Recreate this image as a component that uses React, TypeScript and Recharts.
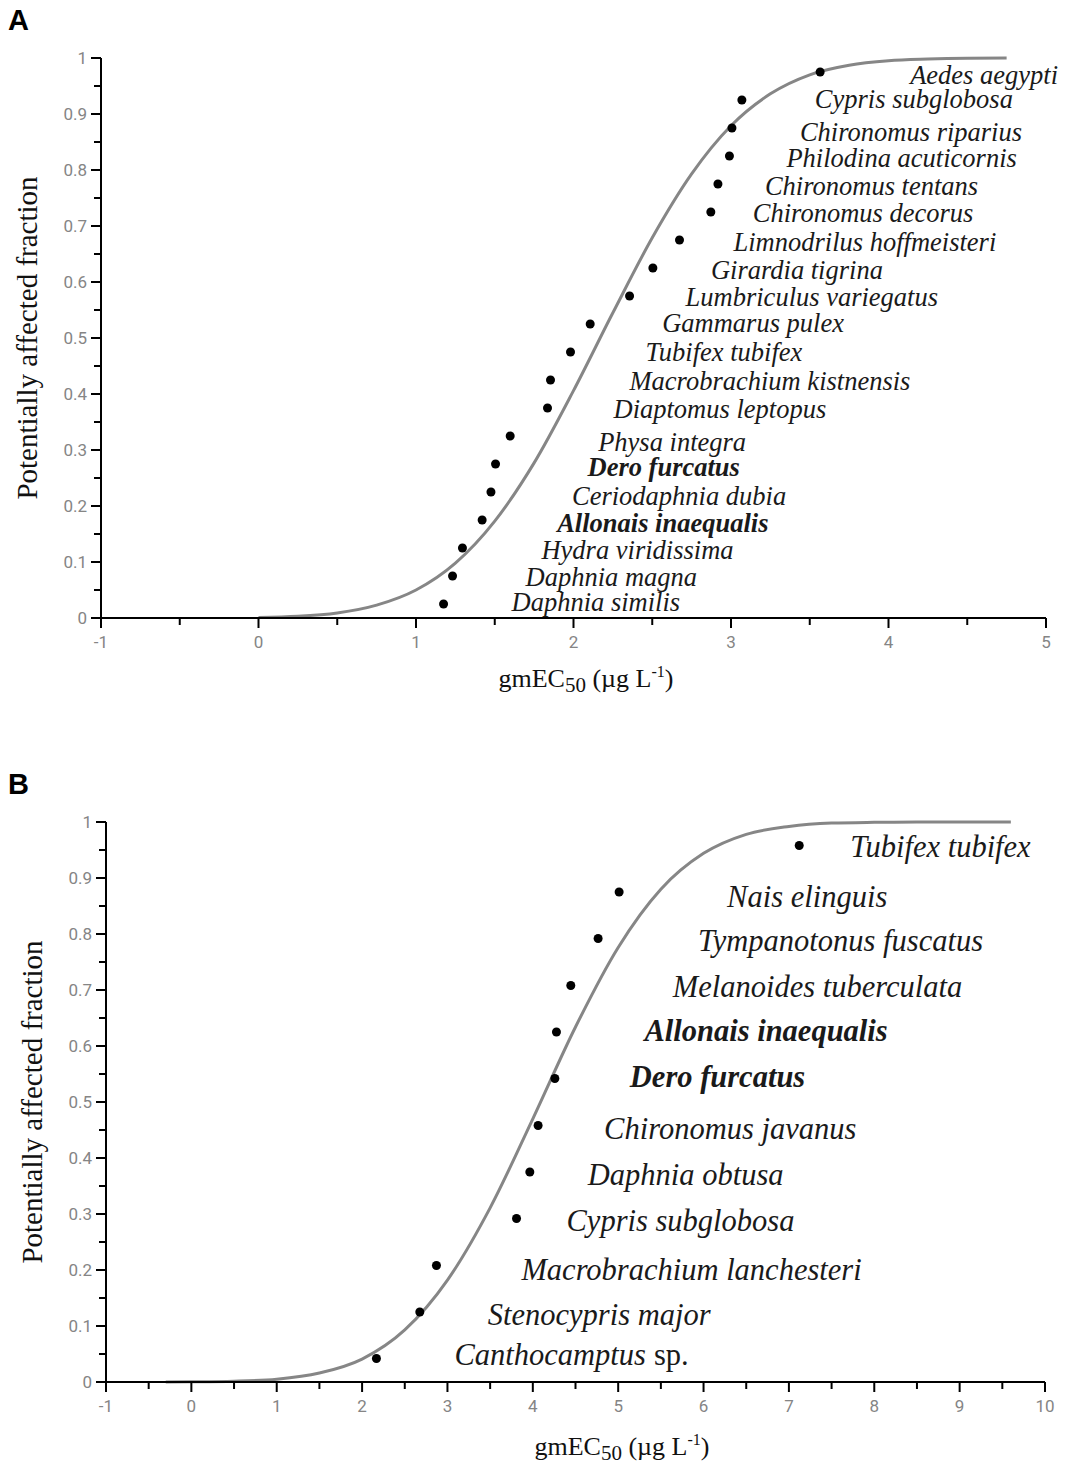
import React from 'react';
import { ComposedChart, Line, Scatter, XAxis, YAxis } from 'recharts';

// Panel A: 20 species, gmEC50 vs potentially affected fraction
const SPECIES_A = [
  'Daphnia similis', 'Daphnia magna', 'Hydra viridissima', 'Allonais inaequalis',
  'Ceriodaphnia dubia', 'Dero furcatus', 'Physa integra', 'Diaptomus leptopus',
  'Macrobrachium kistnensis', 'Tubifex tubifex', 'Gammarus pulex', 'Lumbriculus variegatus',
  'Girardia tigrina', 'Limnodrilus hoffmeisteri', 'Chironomus decorus', 'Chironomus tentans',
  'Philodina acuticornis', 'Chironomus riparius', 'Cypris subglobosa', 'Aedes aegypti',
];
const EC50_A = [
  1.175, 1.232, 1.295, 1.42, 1.476, 1.505, 1.598, 1.835, 1.854, 1.981,
  2.106, 2.356, 2.504, 2.673, 2.872, 2.917, 2.99, 3.006, 3.069, 3.566,
];
const PAF_A = [
  0.025, 0.075, 0.125, 0.175, 0.225, 0.275, 0.325, 0.375, 0.425, 0.475,
  0.525, 0.575, 0.625, 0.675, 0.725, 0.775, 0.825, 0.875, 0.925, 0.975,
];
const CURVE_X_A = [0, 0.25, 0.5, 0.75, 1, 1.25, 1.5, 1.75, 2, 2.25, 2.5, 2.75, 3, 3.25, 3.5, 3.75, 4, 4.25, 4.5, 4.75];
const CURVE_Y_A = [
  0.001, 0.003, 0.009, 0.023, 0.05, 0.098, 0.173, 0.277, 0.406, 0.545,
  0.679, 0.793, 0.879, 0.936, 0.97, 0.987, 0.995, 0.998, 0.9995, 0.9999,
];
const X_TICKS_A = [-1, -0.5, 0, 0.5, 1, 1.5, 2, 2.5, 3, 3.5, 4, 4.5, 5];

// Panel B: 12 species
const SPECIES_B = [
  'Canthocamptus sp.', 'Stenocypris major', 'Macrobrachium lanchesteri', 'Cypris subglobosa',
  'Daphnia obtusa', 'Chironomus javanus', 'Dero furcatus', 'Allonais inaequalis',
  'Melanoides tuberculata', 'Tympanotonus fuscatus', 'Nais elinguis', 'Tubifex tubifex',
];
const EC50_B = [2.168, 2.676, 2.871, 3.809, 3.965, 4.062, 4.258, 4.277, 4.445, 4.765, 5.011, 7.121];
const PAF_B = [0.042, 0.125, 0.208, 0.292, 0.375, 0.458, 0.542, 0.625, 0.708, 0.792, 0.875, 0.958];
const CURVE_X_B = [-0.3, 0, 0.5, 1, 1.5, 2, 2.5, 3, 3.5, 4, 4.5, 5, 5.5, 6, 6.5, 7, 7.5, 8, 8.5, 9, 9.6];
const CURVE_Y_B = [
  0, 0.0003, 0.0014, 0.005, 0.016, 0.041, 0.093, 0.182, 0.311, 0.47,
  0.634, 0.776, 0.88, 0.944, 0.978, 0.992, 0.998, 0.9994, 0.9999, 1, 1,
];
const X_TICKS_B = [-1, -0.5, 0, 0.5, 1, 1.5, 2, 2.5, 3, 3.5, 4, 4.5, 5, 5.5, 6, 6.5, 7, 7.5, 8, 8.5, 9, 9.5, 10];

const Y_TICKS = [
  0, 0.05, 0.1, 0.15, 0.2, 0.25, 0.3, 0.35, 0.4, 0.45, 0.5,
  0.55, 0.6, 0.65, 0.7, 0.75, 0.8, 0.85, 0.9, 0.95, 1,
];
const BOLD = ['Dero furcatus', 'Allonais inaequalis'];

// label placement relative to each dot: [dx, dy to baseline]
const LABEL_OFF_A = [
  [68, 7], [73, 10], [79, 11], [75, 12], [81, 13], [92, 12], [88, 15], [66, 10], [79, 10], [75, 9],
  [72, 8], [56, 10], [58, 11], [54, 11], [42, 10], [47, 11], [57, 11], [68, 13], [73, 8], [90, 12],
];
const LABEL_OFF_B = [
  [78, 7], [68, 13], [85, 14], [50, 13], [58, 13], [66, 13], [75, 9], [88, 9], [102, 11], [100, 13], [108, 15], [51, 11],
];

const serif = '"Liberation Serif", "Times New Roman", serif';
const tickFont = 'Roboto, "Liberation Sans", sans-serif';
const tickGray = '#858585';

const XTick = (p: any) => {
  const { x, y, payload } = p;
  const v = payload.value;
  const major = Number.isInteger(v);
  return (
    <g>
      <line x1={x} x2={x} y1={y} y2={y + (major ? 10 : 7)} stroke="#000" strokeWidth={2} />
      {major && (
        <text x={x} y={y + 30} textAnchor="middle" fontFamily={tickFont} fontSize={17} fill={tickGray}>
          {v}
        </text>
      )}
    </g>
  );
};

const YTick = (p: any) => {
  const { x, y, payload } = p;
  const v = payload.value;
  const major = Math.abs(v * 10 - Math.round(v * 10)) < 1e-6;
  return (
    <g>
      <line x1={x} x2={x - (major ? 10 : 7)} y1={y} y2={y} stroke="#000" strokeWidth={2} />
      {major && (
        <text x={x - 14} y={y + 6} textAnchor="end" fontFamily={tickFont} fontSize={17} fill={tickGray}>
          {Number(v.toFixed(1))}
        </text>
      )}
    </g>
  );
};

function pointShape(offsets: number[][], fs: number) {
  return (props: any) => {
    const { cx, cy, payload } = props;
    const [dx, dy] = offsets[payload.i];
    const name: string = payload.name;
    const bold = BOLD.includes(name);
    const sp = name.endsWith(' sp.');
    return (
      <g>
        <circle cx={cx} cy={cy} r={4.5} fill="#000" />
        <text
          x={cx + dx}
          y={cy + dy}
          fontFamily={serif}
          fontSize={fs}
          fontStyle="italic"
          fontWeight={bold ? 'bold' : 'normal'}
          fill="#1a1a1a"
        >
          {sp ? (
            <>
              {name.replace(' sp.', '')}
              <tspan fontStyle="normal" dx={8}>sp.</tspan>
            </>
          ) : (
            name
          )}
        </text>
      </g>
    );
  };
}

type PanelProps = {
  top: number;
  letter: string;
  species: string[];
  ec50: number[];
  paf: number[];
  curveX: number[];
  curveY: number[];
  xDomain: [number, number];
  xTicks: number[];
  margin: { top: number; right: number; bottom: number; left: number };
  offsets: number[][];
  labelSize: number;
  yTitleX: number;
  xTitleX: number;
  xTitleY: number;
};

function Panel(p: PanelProps) {
  const points = p.species.map((name, i) => ({ i, name, x: p.ec50[i], y: p.paf[i] }));
  const curve = p.curveX.map((x, i) => ({ x, y: p.curveY[i] }));
  return (
    <div style={{ position: 'absolute', left: 0, top: p.top, width: 1068, height: 700 }}>
      <ComposedChart width={1068} height={700} margin={p.margin} style={{ overflow: 'visible' }}>
        <XAxis
          type="number"
          dataKey="x"
          domain={p.xDomain}
          ticks={p.xTicks}
          interval={0}
          height={30}
          tickLine={false}
          tickSize={0}
          tickMargin={0}
          tick={(t: any) => <XTick {...t} />}
          axisLine={{ stroke: '#000', strokeWidth: 2 }}
        />
        <YAxis
          type="number"
          dataKey="y"
          domain={[0, 1]}
          ticks={Y_TICKS}
          interval={0}
          width={60}
          tickLine={false}
          tickSize={0}
          tickMargin={0}
          tick={(t: any) => <YTick {...t} />}
          axisLine={{ stroke: '#000', strokeWidth: 2 }}
        />
        <Line
          data={curve}
          dataKey="y"
          type="monotone"
          stroke="#868686"
          strokeWidth={3}
          dot={false}
          activeDot={false}
          isAnimationActive={false}
        />
        <Scatter
          data={points}
          dataKey="y"
          fill="#000"
          shape={pointShape(p.offsets, p.labelSize)}
          isAnimationActive={false}
        />
      </ComposedChart>
      <svg
        width={1068}
        height={700}
        style={{ position: 'absolute', left: 0, top: 0, pointerEvents: 'none' }}
      >
        <text
          x={p.yTitleX}
          y={338}
          transform={`rotate(-90 ${p.yTitleX} 338)`}
          textAnchor="middle"
          dominantBaseline="central"
          fontFamily={serif}
          fontSize={29}
          fill="#111"
        >
          Potentially affected fraction
        </text>
        <text x={p.xTitleX} y={p.xTitleY} textAnchor="middle" fontFamily={serif} fontSize={26} fill="#111">
          gmEC
          <tspan fontSize={21} dy={5}>50</tspan>
          <tspan dy={-5}> (µg L</tspan>
          <tspan fontSize={16} dy={-10}>-1</tspan>
          <tspan dy={10}>)</tspan>
        </text>
      </svg>
      <div
        style={{
          position: 'absolute',
          left: 8,
          top: 6,
          fontFamily: '"Liberation Sans", Arial, sans-serif',
          fontWeight: 'bold',
          fontSize: 29,
          lineHeight: 1,
          color: '#000',
        }}
      >
        {p.letter}
      </div>
    </div>
  );
}

export default function App() {
  return (
    <div
      style={{
        position: 'absolute',
        left: 0,
        top: 0,
        width: 1068,
        height: 1464,
        background: '#fff',
        overflow: 'hidden',
      }}
    >
      <Panel
        top={0}
        letter="A"
        species={SPECIES_A}
        ec50={EC50_A}
        paf={PAF_A}
        curveX={CURVE_X_A}
        curveY={CURVE_Y_A}
        xDomain={[-1, 5]}
        xTicks={X_TICKS_A}
        margin={{ top: 58, right: 22, bottom: 52, left: 41 }}
        offsets={LABEL_OFF_A}
        labelSize={26.5}
        yTitleX={27}
        xTitleX={586}
        xTitleY={687}
      />
      <Panel
        top={764}
        letter="B"
        species={SPECIES_B}
        ec50={EC50_B}
        paf={PAF_B}
        curveX={CURVE_X_B}
        curveY={CURVE_Y_B}
        xDomain={[-1, 10]}
        xTicks={X_TICKS_B}
        margin={{ top: 58, right: 23, bottom: 52, left: 46 }}
        offsets={LABEL_OFF_B}
        labelSize={30.5}
        yTitleX={32}
        xTitleX={622}
        xTitleY={691}
      />
    </div>
  );
}
